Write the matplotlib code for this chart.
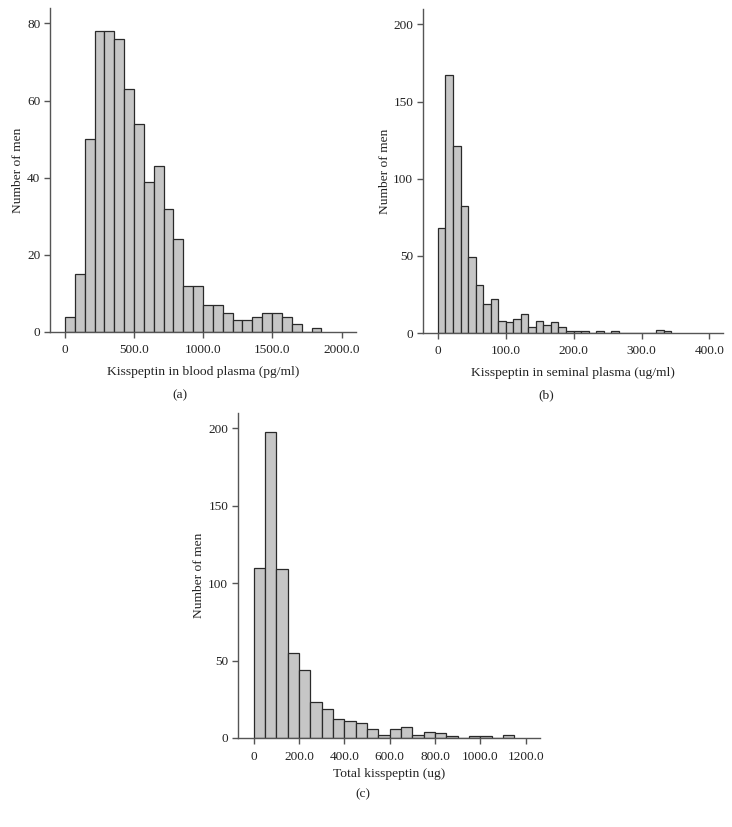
import numpy as np
import matplotlib
matplotlib.use("Agg")
import matplotlib.pyplot as plt
from matplotlib.ticker import FixedLocator, FuncFormatter

plt.rcParams['font.family'] = ['Liberation Serif', 'DejaVu Serif']

# ---- data (counts per bin) ----
blood_bin_width = 71.3
blood_counts = [4, 15, 50, 78, 78, 76, 63, 54, 39, 43, 32, 24, 12, 12, 7, 7,
                5, 3, 3, 4, 5, 5, 4, 2, 0, 1]

seminal_bin_width = 11.1
seminal_counts = [68, 167, 121, 82, 49, 31, 19, 22, 8, 7, 9, 12, 4, 8, 5, 7,
                  4, 1, 1, 1, 0, 1, 0, 1, 0, 0, 0, 0, 0, 2, 1]

total_bin_width = 50.0
total_counts = [110, 198, 109, 55, 44, 23, 19, 12, 11, 10, 6, 2, 6, 7, 2, 4,
                3, 1, 0, 1, 1, 0, 2]

blood_xticks = [0, 500, 1000, 1500, 2000]
seminal_xticks = [0, 100, 200, 300, 400]
total_xticks = [0, 200, 400, 600, 800, 1000, 1200]

blood_yticks = [0, 20, 40, 60, 80]
seminal_yticks = [0, 50, 100, 150, 200]
total_yticks = [0, 50, 100, 150, 200]

W, H = 732, 827
fig = plt.figure(figsize=(W / 100, H / 100), dpi=100)

def px_axes(left, top, right, bottom):
    return fig.add_axes([left / W, 1 - bottom / H, (right - left) / W, (bottom - top) / H])

def xfmt(v, pos):
    return "0" if v == 0 else f"{v:.1f}"

FACE = '#c6c6c6'
EDGE = '#2a2a2a'
SPINE = '#555555'
TXT = '#222222'
FS = 9.5

def panel(ax, counts, width, xticks, yticks, xlim, ylim, xlabel, tag, tag_xy, xlpad):
    counts = np.asarray(counts, dtype=float)
    edges = np.arange(len(counts) + 1) * width
    centers = (edges[:-1] + edges[1:]) / 2
    ax.hist(centers, bins=edges, weights=counts, color=FACE, edgecolor=EDGE, linewidth=0.9)
    ax.set_xlim(*xlim)
    ax.set_ylim(*ylim)
    for s in ('top', 'right'):
        ax.spines[s].set_visible(False)
    for s in ('left', 'bottom'):
        ax.spines[s].set_color(SPINE)
        ax.spines[s].set_linewidth(1.0)
    ax.xaxis.set_major_locator(FixedLocator(xticks))
    ax.xaxis.set_major_formatter(FuncFormatter(xfmt))
    ax.yaxis.set_major_locator(FixedLocator(yticks))
    ax.tick_params(direction='out', length=4, width=1.0, color=SPINE,
                   labelsize=FS, labelcolor=TXT)
    ax.tick_params(axis='x', pad=5)
    ax.tick_params(axis='y', pad=3)
    ax.set_xlabel(xlabel, fontsize=9.7, color=TXT, labelpad=xlpad)
    ax.set_ylabel('Number of men', fontsize=9.7, color=TXT, labelpad=2)
    fig.text(tag_xy[0] / W, 1 - tag_xy[1] / H, tag, ha='center', va='center',
             fontsize=9.7, color=TXT)

ax_a = px_axes(50, 8, 356, 332)
panel(ax_a, blood_counts, blood_bin_width, blood_xticks, blood_yticks,
      (-108, 2104), (0, 84), 'Kisspeptin in blood plasma (pg/ml)', '(a)', (180, 395), 7)

ax_b = px_axes(423, 9, 723, 333)
panel(ax_b, seminal_counts, seminal_bin_width, seminal_xticks, seminal_yticks,
      (-22, 420), (0, 210), 'Kisspeptin in seminal plasma (ug/ml)', '(b)', (546, 395), 7)

ax_c = px_axes(238, 413, 540, 738)
panel(ax_c, total_counts, total_bin_width, total_xticks, total_yticks,
      (-69, 1263), (0, 210), 'Total kisspeptin (ug)', '(c)', (363, 794), 4)

fig.savefig('out.png', dpi=100)
